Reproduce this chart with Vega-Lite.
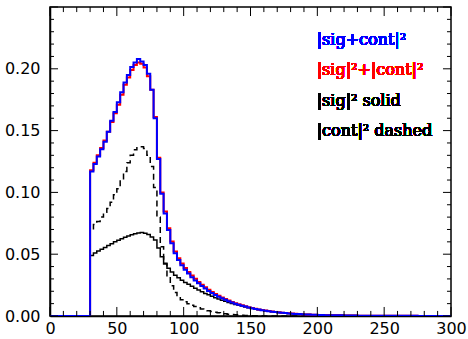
{
  "$schema": "https://vega.github.io/schema/vega-lite/v6.json",
  "width": 401,
  "height": 309,
  "autosize": "none",
  "padding": {"left": 50, "top": 7, "right": 17, "bottom": 23},
  "background": "white",
  "config": {
    "view": {"stroke": "black", "strokeWidth": 1.5},
    "axis": {
      "grid": false,
      "title": null,
      "domainColor": "black",
      "domainWidth": 1.5,
      "labelColor": "black",
      "labelFont": "DejaVu Sans",
      "labelFontSize": 16,
      "labelOverlap": false,
      "labelFlush": false
    }
  },
  "datasets": {
    "xmaj": [{"v": 0}, {"v": 50}, {"v": 100}, {"v": 150}, {"v": 200}, {"v": 250}, {"v": 300}],
    "xmin": [{"v": 10}, {"v": 20}, {"v": 30}, {"v": 40}, {"v": 60}, {"v": 70}, {"v": 80}, {"v": 90}, {"v": 110}, {"v": 120}, {"v": 130}, {"v": 140}, {"v": 160}, {"v": 170}, {"v": 180}, {"v": 190}, {"v": 210}, {"v": 220}, {"v": 230}, {"v": 240}, {"v": 260}, {"v": 270}, {"v": 280}, {"v": 290}],
    "ymaj": [{"v": 0}, {"v": 0.05}, {"v": 0.1}, {"v": 0.15}, {"v": 0.2}, {"v": 0.25}],
    "ymin": [{"v": 0.01}, {"v": 0.02}, {"v": 0.03}, {"v": 0.04}, {"v": 0.06}, {"v": 0.07}, {"v": 0.08}, {"v": 0.09}, {"v": 0.11}, {"v": 0.12}, {"v": 0.13}, {"v": 0.14}, {"v": 0.16}, {"v": 0.17}, {"v": 0.18}, {"v": 0.19}, {"v": 0.21}, {"v": 0.22}, {"v": 0.23}, {"v": 0.24}],
    "h": [
      {"x": 0, "b": 0, "r": 0, "s": 0, "d": 0},
      {"x": 30, "b": 0.117, "r": 0.118, "s": 0.049, "d": 0.069},
      {"x": 32.5, "b": 0.123, "r": 0.124, "s": 0.051, "d": 0.074},
      {"x": 35, "b": 0.129, "r": 0.130, "s": 0.0525, "d": 0.0765},
      {"x": 37.5, "b": 0.135, "r": 0.136, "s": 0.054, "d": 0.080},
      {"x": 40, "b": 0.141, "r": 0.142, "s": 0.0555, "d": 0.084},
      {"x": 42.5, "b": 0.149, "r": 0.149, "s": 0.057, "d": 0.087},
      {"x": 45, "b": 0.158, "r": 0.157, "s": 0.0585, "d": 0.092},
      {"x": 47.5, "b": 0.165, "r": 0.164, "s": 0.060, "d": 0.098},
      {"x": 50, "b": 0.173, "r": 0.171, "s": 0.0612, "d": 0.103},
      {"x": 52.5, "b": 0.181, "r": 0.179, "s": 0.0625, "d": 0.110},
      {"x": 55, "b": 0.189, "r": 0.187, "s": 0.0637, "d": 0.117},
      {"x": 57.5, "b": 0.195, "r": 0.193, "s": 0.0648, "d": 0.124},
      {"x": 60, "b": 0.2015, "r": 0.199, "s": 0.0658, "d": 0.130},
      {"x": 62.5, "b": 0.205, "r": 0.203, "s": 0.0666, "d": 0.1345},
      {"x": 65, "b": 0.208, "r": 0.205, "s": 0.0672, "d": 0.137},
      {"x": 67.5, "b": 0.206, "r": 0.204, "s": 0.0675, "d": 0.137},
      {"x": 70, "b": 0.203, "r": 0.201, "s": 0.067, "d": 0.1355},
      {"x": 72.5, "b": 0.196, "r": 0.194, "s": 0.066, "d": 0.130},
      {"x": 75, "b": 0.183, "r": 0.183, "s": 0.064, "d": 0.121},
      {"x": 77.5, "b": 0.160, "r": 0.161, "s": 0.0615, "d": 0.104},
      {"x": 80, "b": 0.127, "r": 0.128, "s": 0.055, "d": 0.080},
      {"x": 82.5, "b": 0.099, "r": 0.100, "s": 0.048, "d": 0.056},
      {"x": 85, "b": 0.083, "r": 0.0845, "s": 0.0426, "d": 0.042},
      {"x": 87.5, "b": 0.0696, "r": 0.071, "s": 0.0386, "d": 0.032},
      {"x": 90, "b": 0.0588, "r": 0.0603, "s": 0.0355, "d": 0.0245},
      {"x": 92.5, "b": 0.0507, "r": 0.0522, "s": 0.033, "d": 0.019},
      {"x": 95, "b": 0.0453, "r": 0.0467, "s": 0.031, "d": 0.0155},
      {"x": 97.5, "b": 0.041, "r": 0.0424, "s": 0.029, "d": 0.0132},
      {"x": 100, "b": 0.0375, "r": 0.0388, "s": 0.0272, "d": 0.0115},
      {"x": 102.5, "b": 0.0343, "r": 0.0356, "s": 0.0256, "d": 0.010},
      {"x": 105, "b": 0.0314, "r": 0.0327, "s": 0.024, "d": 0.0087},
      {"x": 107.5, "b": 0.0288, "r": 0.0301, "s": 0.0225, "d": 0.0076},
      {"x": 110, "b": 0.0264, "r": 0.0276, "s": 0.021, "d": 0.0066},
      {"x": 112.5, "b": 0.0242, "r": 0.0253, "s": 0.0196, "d": 0.0057},
      {"x": 115, "b": 0.0222, "r": 0.0232, "s": 0.0183, "d": 0.0049},
      {"x": 117.5, "b": 0.0203, "r": 0.0213, "s": 0.0171, "d": 0.0042},
      {"x": 120, "b": 0.0186, "r": 0.0195, "s": 0.0159, "d": 0.0036},
      {"x": 122.5, "b": 0.017, "r": 0.0179, "s": 0.0148, "d": 0.0031},
      {"x": 125, "b": 0.0156, "r": 0.0164, "s": 0.0138, "d": 0.0026},
      {"x": 127.5, "b": 0.0143, "r": 0.015, "s": 0.0128, "d": 0.0022},
      {"x": 130, "b": 0.0131, "r": 0.0137, "s": 0.0119, "d": 0.0018},
      {"x": 132.5, "b": 0.012, "r": 0.0125, "s": 0.011, "d": 0.0015},
      {"x": 135, "b": 0.011, "r": 0.0114, "s": 0.0102, "d": 0.0012},
      {"x": 137.5, "b": 0.01, "r": 0.0104, "s": 0.0094, "d": 0.001},
      {"x": 140, "b": 0.0091, "r": 0.0095, "s": 0.0087, "d": 0.0008},
      {"x": 142.5, "b": 0.0083, "r": 0.0086, "s": 0.008, "d": 0.0006},
      {"x": 145, "b": 0.0076, "r": 0.0078, "s": 0.0073, "d": 0.0005},
      {"x": 147.5, "b": 0.0069, "r": 0.0071, "s": 0.0067, "d": 0.0004},
      {"x": 150, "b": 0.0063, "r": 0.0064, "s": 0.0061, "d": 0.0003},
      {"x": 152.5, "b": 0.0057, "r": 0.0058, "s": 0.0056, "d": 0.0003},
      {"x": 155, "b": 0.0052, "r": 0.0053, "s": 0.0051, "d": 0.0002},
      {"x": 157.5, "b": 0.0047, "r": 0.0048, "s": 0.0046, "d": 0.0002},
      {"x": 160, "b": 0.0043, "r": 0.0044, "s": 0.0042, "d": 0.0001},
      {"x": 162.5, "b": 0.0039, "r": 0.004, "s": 0.0038, "d": 0.0001},
      {"x": 165, "b": 0.0035, "r": 0.0036, "s": 0.0035, "d": 0.0001},
      {"x": 167.5, "b": 0.0032, "r": 0.0033, "s": 0.0032, "d": 0.0001},
      {"x": 170, "b": 0.0029, "r": 0.003, "s": 0.0029, "d": 0},
      {"x": 172.5, "b": 0.0026, "r": 0.0027, "s": 0.0026, "d": 0},
      {"x": 175, "b": 0.0024, "r": 0.0024, "s": 0.0024, "d": 0},
      {"x": 177.5, "b": 0.0021, "r": 0.0022, "s": 0.0021, "d": 0},
      {"x": 180, "b": 0.0019, "r": 0.002, "s": 0.0019, "d": 0},
      {"x": 182.5, "b": 0.0017, "r": 0.0018, "s": 0.0017, "d": 0},
      {"x": 185, "b": 0.0016, "r": 0.0016, "s": 0.0016, "d": 0},
      {"x": 187.5, "b": 0.0014, "r": 0.0015, "s": 0.0014, "d": 0},
      {"x": 190, "b": 0.0013, "r": 0.0013, "s": 0.0013, "d": 0},
      {"x": 192.5, "b": 0.0012, "r": 0.0012, "s": 0.0012, "d": 0},
      {"x": 195, "b": 0.0011, "r": 0.0011, "s": 0.0011, "d": 0},
      {"x": 197.5, "b": 0.001, "r": 0.001, "s": 0.001, "d": 0},
      {"x": 200, "b": 0.0009, "r": 0.0009, "s": 0.0009, "d": 0},
      {"x": 205, "b": 0.0007, "r": 0.0007, "s": 0.0007, "d": 0},
      {"x": 210, "b": 0.0006, "r": 0.0006, "s": 0.0006, "d": 0},
      {"x": 220, "b": 0.0004, "r": 0.0004, "s": 0.0004, "d": 0},
      {"x": 230, "b": 0.0003, "r": 0.0003, "s": 0.0003, "d": 0},
      {"x": 250, "b": 0.0002, "r": 0.0002, "s": 0.0002, "d": 0},
      {"x": 275, "b": 0.0001, "r": 0.0001, "s": 0.0001, "d": 0},
      {"x": 300, "b": 0, "r": 0, "s": 0, "d": 0}
    ]
  },
  "data": {"name": "h"},
  "layer": [
    {
      "mark": {"type": "line", "interpolate": "step-after", "color": "black", "strokeWidth": 1.5, "clip": true},
      "encoding": {
        "x": {
          "field": "x", "type": "quantitative",
          "scale": {"domain": [0, 300], "nice": false, "zero": false},
          "axis": {"orient": "bottom", "values": [0, 50, 100, 150, 200, 250, 300], "format": "d", "ticks": false, "labelPadding": 4}
        },
        "y": {
          "field": "s", "type": "quantitative",
          "scale": {"domain": [0, 0.25], "nice": false},
          "axis": {"orient": "left", "values": [0, 0.05, 0.1, 0.15, 0.2], "format": ".2f", "ticks": false, "labelPadding": 10}
        }
      }
    },
    {
      "mark": {"type": "line", "interpolate": "step-after", "color": "black", "strokeWidth": 1.5, "strokeDash": [6, 4], "clip": true},
      "encoding": {
        "x": {"field": "x", "type": "quantitative", "axis": null},
        "y": {"field": "d", "type": "quantitative", "axis": null}
      }
    },
    {
      "mark": {"type": "line", "interpolate": "step-after", "color": "#ff0000", "strokeWidth": 2, "clip": true},
      "encoding": {
        "x": {"field": "x", "type": "quantitative", "axis": null},
        "y": {"field": "r", "type": "quantitative", "axis": null}
      }
    },
    {
      "mark": {"type": "line", "interpolate": "step-after", "color": "#0000ff", "strokeWidth": 2, "clip": true},
      "encoding": {
        "x": {"field": "x", "type": "quantitative", "axis": null},
        "y": {"field": "b", "type": "quantitative", "axis": null}
      }
    },
    {
      "data": {"name": "xmaj"},
      "mark": {"type": "rule", "color": "black", "strokeWidth": 1},
      "encoding": {
        "x": {"field": "v", "type": "quantitative", "axis": null},
        "y": {"datum": 0, "type": "quantitative", "axis": null},
        "y2": {"datum": 0.0073}
      }
    },
    {
      "data": {"name": "xmaj"},
      "mark": {"type": "rule", "color": "black", "strokeWidth": 1},
      "encoding": {
        "x": {"field": "v", "type": "quantitative", "axis": null},
        "y": {"datum": 0.25, "type": "quantitative", "axis": null},
        "y2": {"datum": 0.2427}
      }
    },
    {
      "data": {"name": "xmin"},
      "mark": {"type": "rule", "color": "black", "strokeWidth": 1},
      "encoding": {
        "x": {"field": "v", "type": "quantitative", "axis": null},
        "y": {"datum": 0, "type": "quantitative", "axis": null},
        "y2": {"datum": 0.0041}
      }
    },
    {
      "data": {"name": "xmin"},
      "mark": {"type": "rule", "color": "black", "strokeWidth": 1},
      "encoding": {
        "x": {"field": "v", "type": "quantitative", "axis": null},
        "y": {"datum": 0.25, "type": "quantitative", "axis": null},
        "y2": {"datum": 0.2459}
      }
    },
    {
      "data": {"name": "ymaj"},
      "mark": {"type": "rule", "color": "black", "strokeWidth": 1},
      "encoding": {
        "y": {"field": "v", "type": "quantitative", "axis": null},
        "x": {"datum": 0, "type": "quantitative", "axis": null},
        "x2": {"datum": 6}
      }
    },
    {
      "data": {"name": "ymaj"},
      "mark": {"type": "rule", "color": "black", "strokeWidth": 1},
      "encoding": {
        "y": {"field": "v", "type": "quantitative", "axis": null},
        "x": {"datum": 300, "type": "quantitative", "axis": null},
        "x2": {"datum": 294}
      }
    },
    {
      "data": {"name": "ymin"},
      "mark": {"type": "rule", "color": "black", "strokeWidth": 1},
      "encoding": {
        "y": {"field": "v", "type": "quantitative", "axis": null},
        "x": {"datum": 0, "type": "quantitative", "axis": null},
        "x2": {"datum": 3}
      }
    },
    {
      "data": {"name": "ymin"},
      "mark": {"type": "rule", "color": "black", "strokeWidth": 1},
      "encoding": {
        "y": {"field": "v", "type": "quantitative", "axis": null},
        "x": {"datum": 300, "type": "quantitative", "axis": null},
        "x2": {"datum": 297}
      }
    },
    {
      "mark": {"type": "text", "align": "left", "baseline": "alphabetic", "font": "DejaVu Serif", "fontSize": 16, "color": "#0000ff"},
      "encoding": {
        "x": {"datum": 199.5, "type": "quantitative", "axis": null},
        "y": {"datum": 0.2193, "type": "quantitative", "axis": null},
        "text": {"value": "|sig+cont|²"}
      }
    },
    {
      "mark": {"type": "text", "align": "left", "baseline": "alphabetic", "font": "DejaVu Serif", "fontSize": 16, "color": "#ff0000"},
      "encoding": {
        "x": {"datum": 199.5, "type": "quantitative", "axis": null},
        "y": {"datum": 0.195, "type": "quantitative", "axis": null},
        "text": {"value": "|sig|²+|cont|²"}
      }
    },
    {
      "mark": {"type": "text", "align": "left", "baseline": "alphabetic", "font": "DejaVu Serif", "fontSize": 16, "color": "black"},
      "encoding": {
        "x": {"datum": 199.5, "type": "quantitative", "axis": null},
        "y": {"datum": 0.1699, "type": "quantitative", "axis": null},
        "text": {"value": "|sig|²  solid"}
      }
    },
    {
      "mark": {"type": "text", "align": "left", "baseline": "alphabetic", "font": "DejaVu Serif", "fontSize": 16, "color": "black"},
      "encoding": {
        "x": {"datum": 199.5, "type": "quantitative", "axis": null},
        "y": {"datum": 0.1456, "type": "quantitative", "axis": null},
        "text": {"value": "|cont|²  dashed"}
      }
    }
  ],
  "resolve": {"axis": {"x": "independent", "y": "independent"}}
}
